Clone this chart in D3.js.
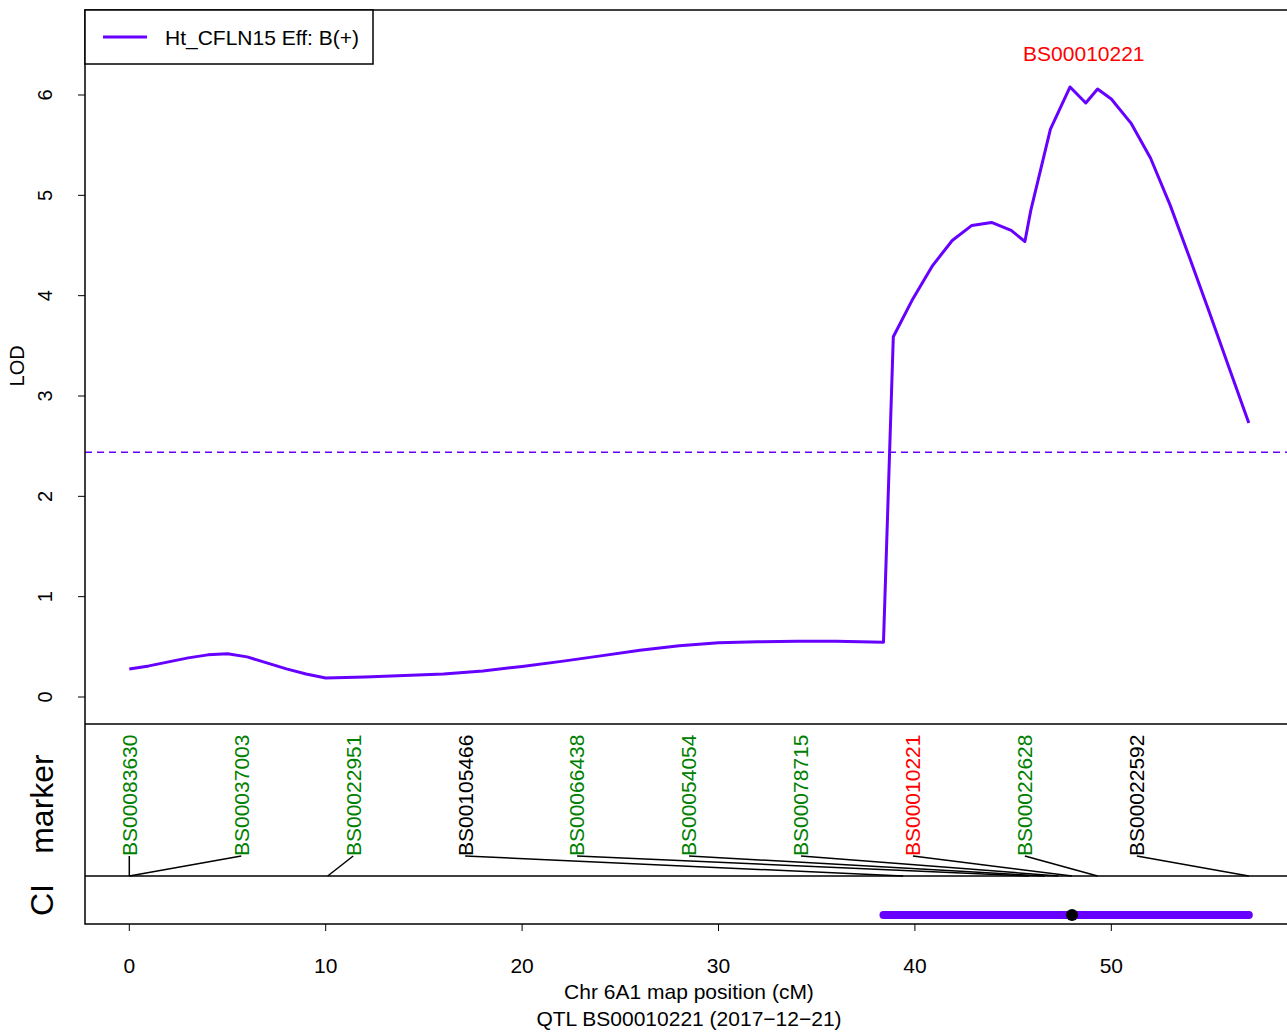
<!DOCTYPE html>
<html>
<head>
<meta charset="utf-8">
<script src="https://cdn.jsdelivr.net/npm/d3@7"></script>
<style>
  body { margin: 0; background: #fff; }
  svg { font-family: "Liberation Sans", Arial, sans-serif; }
</style>
</head>
<body>
<div id="chart"></div>
<script>
const width = 1287;
const height = 1033;

// LOD profile
const positions = [0, 1, 2, 3, 4, 5, 6, 7, 8, 9, 10, 12, 14, 16, 18, 20, 22, 24, 26, 28, 30, 32, 34, 36, 38.4,
                   38.9, 39.9, 40.9, 41.9, 42.9, 43.9, 44.9, 45.6, 45.9, 46.9, 47.9, 48.7, 49.3, 50, 51, 52, 53, 54, 55, 56, 57];
const lodValues = [0.28, 0.31, 0.35, 0.39, 0.42, 0.43, 0.40, 0.34, 0.28, 0.23, 0.19, 0.20, 0.215, 0.23, 0.26, 0.305, 0.355, 0.41, 0.465, 0.51, 0.54, 0.55, 0.555, 0.555, 0.545,
                   3.59, 3.97, 4.30, 4.55, 4.70, 4.73, 4.65, 4.54, 4.85, 5.66, 6.08, 5.92, 6.06, 5.96, 5.72, 5.37, 4.90, 4.37, 3.83, 3.28, 2.73];
const threshold = 2.44;
const seriesName = "Ht_CFLN15 Eff: B(+)";

// markers
const markerNames = ["BS00083630", "BS00037003", "BS00022951", "BS00105466", "BS00066438",
                     "BS00054054", "BS00078715", "BS00010221", "BS00022628", "BS00022592"];
const markerPos = [0, 0, 10.1, 39.4, 45.8, 46.6, 47.3, 48.0, 49.3, 57.0];
const markerColors = ["green", "green", "green", "black", "green", "green", "green", "red", "green", "black"];

// QTL interval
const ciLow = 38.4;
const ciHigh = 57.0;
const qtlPeak = 48.0;
const qtlName = "BS00010221";

const xTicks = [0, 10, 20, 30, 40, 50];
const yTicks = [0, 1, 2, 3, 4, 5, 6];

const purple = "#6600ff";
const fs = 21;
const padLeft = 85, padTop = 10, lodBottom = 724, markBottom = 876, ciBottom = 924, padRight = 1300;

const x = d3.scaleLinear().domain([0, 57]).range([129.3, 1248.8]);
const y = d3.scaleLinear().domain([0, 6]).range([697, 95]);

const svg = d3.select("#chart")
    .append("svg")
    .attr("width", width)
    .attr("height", height);

// curve
const line = d3.line()
    .x((d, i) => x(positions[i]))
    .y(d => y(d));

svg.append("line")
    .attr("x1", padLeft).attr("x2", padRight)
    .attr("y1", y(threshold)).attr("y2", y(threshold))
    .attr("stroke", purple)
    .attr("stroke-width", 1.5)
    .attr("stroke-dasharray", "7,5");

svg.append("path")
    .datum(lodValues)
    .attr("d", line)
    .attr("fill", "none")
    .attr("stroke", purple)
    .attr("stroke-width", 3)
    .attr("stroke-linejoin", "round");

// panel frames
svg.append("rect")
    .attr("x", padLeft).attr("y", padTop)
    .attr("width", padRight - padLeft).attr("height", ciBottom - padTop)
    .attr("fill", "none").attr("stroke", "black").attr("stroke-width", 1.5);
[lodBottom, markBottom].forEach(v => {
    svg.append("line")
        .attr("x1", padLeft).attr("x2", padRight)
        .attr("y1", v).attr("y2", v)
        .attr("stroke", "black").attr("stroke-width", 1.5);
});

// y axis
const yAxis = svg.append("g");
yAxis.selectAll("line")
    .data(yTicks)
    .enter()
    .append("line")
    .attr("x1", padLeft - 7).attr("x2", padLeft)
    .attr("y1", d => y(d)).attr("y2", d => y(d))
    .attr("stroke", "black");
yAxis.selectAll("text")
    .data(yTicks)
    .enter()
    .append("text")
    .attr("transform", d => `translate(45,${y(d)}) rotate(-90)`)
    .attr("dy", "0.35em")
    .attr("text-anchor", "middle")
    .attr("font-size", 20)
    .text(d => d);
svg.append("text")
    .attr("transform", `translate(17,${y(3.3)}) rotate(-90)`)
    .attr("dy", "0.35em")
    .attr("text-anchor", "middle")
    .attr("font-size", 20)
    .text("LOD");

// x axis
const xAxis = svg.append("g");
xAxis.selectAll("line")
    .data(xTicks)
    .enter()
    .append("line")
    .attr("x1", d => x(d)).attr("x2", d => x(d))
    .attr("y1", ciBottom).attr("y2", ciBottom + 7)
    .attr("stroke", "black");
xAxis.selectAll("text")
    .data(xTicks)
    .enter()
    .append("text")
    .attr("x", d => x(d))
    .attr("y", 973)
    .attr("text-anchor", "middle")
    .attr("font-size", fs)
    .text(d => d);
svg.append("text")
    .attr("x", 689).attr("y", 999)
    .attr("text-anchor", "middle")
    .attr("font-size", fs)
    .text("Chr 6A1 map position (cM)");
svg.append("text")
    .attr("x", 689).attr("y", 1026)
    .attr("text-anchor", "middle")
    .attr("font-size", fs)
    .text(`QTL ${qtlName} (2017\u221212\u221221)`);

// legend
svg.append("rect")
    .attr("x", padLeft).attr("y", padTop)
    .attr("width", 288).attr("height", 54)
    .attr("fill", "white").attr("stroke", "black").attr("stroke-width", 1.5);
svg.append("line")
    .attr("x1", 103).attr("x2", 147)
    .attr("y1", 37).attr("y2", 37)
    .attr("stroke", purple).attr("stroke-width", 3);
svg.append("text")
    .attr("x", 165).attr("y", 45)
    .attr("font-size", fs)
    .text(seriesName);

// QTL label on top
svg.append("text")
    .attr("x", x(48.6)).attr("y", 61)
    .attr("text-anchor", "middle")
    .attr("font-size", fs)
    .attr("fill", "red")
    .text(qtlName);

// marker labels and connectors
const labelStep = d3.max(markerPos) / markerNames.length;
const labelX = i => x(i * labelStep);

svg.selectAll(".conn")
    .data(markerNames)
    .enter()
    .append("line")
    .attr("class", "conn")
    .attr("x1", (d, i) => labelX(i)).attr("y1", 856)
    .attr("x2", (d, i) => x(markerPos[i])).attr("y2", markBottom)
    .attr("stroke", "black").attr("stroke-width", 1.5);

svg.selectAll(".mlabel")
    .data(markerNames)
    .enter()
    .append("text")
    .attr("class", "mlabel")
    .attr("transform", (d, i) => `translate(${labelX(i)},856) rotate(-90)`)
    .attr("dy", "0.35em")
    .attr("font-size", fs)
    .attr("fill", (d, i) => markerColors[i])
    .text(d => d);

// panel labels
svg.append("text")
    .attr("transform", `translate(42,${(lodBottom + markBottom) / 2 + 4}) rotate(-90)`)
    .attr("dy", "0.35em")
    .attr("text-anchor", "middle")
    .attr("font-size", 32)
    .text("marker");
svg.append("text")
    .attr("transform", `translate(42,${(markBottom + ciBottom) / 2}) rotate(-90)`)
    .attr("dy", "0.35em")
    .attr("text-anchor", "middle")
    .attr("font-size", 32)
    .text("CI");

// confidence interval
const ciY = 915;
svg.append("line")
    .attr("x1", x(ciLow)).attr("x2", x(ciHigh))
    .attr("y1", ciY).attr("y2", ciY)
    .attr("stroke", purple)
    .attr("stroke-width", 8)
    .attr("stroke-linecap", "round");
svg.append("circle")
    .attr("cx", x(qtlPeak)).attr("cy", ciY)
    .attr("r", 6)
    .attr("fill", "black");
</script>
</body>
</html>
